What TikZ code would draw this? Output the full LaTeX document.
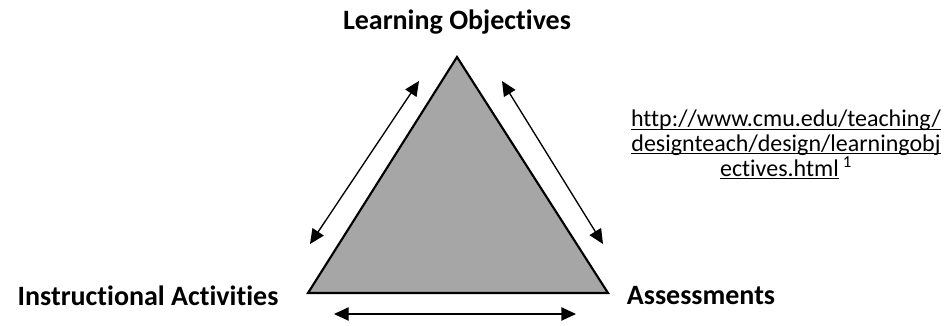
\documentclass[tikz,border=0pt]{standalone}
\usepackage{fontspec}
\setmainfont{Carlito}[Ligatures=NoCommon]
\usetikzlibrary{arrows.meta, positioning}
\definecolor{triangray}{HTML}{A6A6A6}

% underline that sits just under the baseline, through descenders
\newcommand{\linkline}[1]{\underline{\smash{#1}}}

\tikzset{
    corner/.style={font=\bfseries\fontsize{21}{25}\selectfont, inner sep=0pt},
    twoway/.style={{Triangle[length=11pt,width=10pt]}-{Triangle[length=11pt,width=10pt]}, line width=1pt},
}

\begin{document}
\begin{tikzpicture}[x=0.75pt, y=0.75pt]
    \useasboundingbox (0,0) rectangle (946,325);

    % the three corners of the triangle
    \coordinate (top) at (457, 268);
    \coordinate (left) at (308, 32);
    \coordinate (right) at (608, 32);
    \filldraw[fill=triangray, line width=1.6pt, line join=miter] (top) -- (left) -- (right) -- cycle;

    \node[corner] (obj) at (457, 303) {Learning Objectives}; % top
    \node[corner] (act) at (148, 29) {Instructional Activities}; % left
    \node[corner] (ass) at (701, 29) {Assessments}; % right

    \node[align=center, font=\fontsize{18}{18.5}\selectfont, inner sep=0pt] (url) at (786, 172)
        {\linkline{http://www.cmu.edu/teaching/}\\
         \linkline{designteach/design/learningobj}\\
         \linkline{ectives.html}\,\textsuperscript{1}};

    % arrows between the corners
    \coordinate (a1) at (310, 81);
    \coordinate (a2) at (419, 244);
    \coordinate (b1) at (502, 244);
    \coordinate (b2) at (603, 81);
    \coordinate (c1) at (334, 11);
    \coordinate (c2) at (576, 11);
    \draw[twoway] (a1) -- (a2);
    \draw[twoway] (b1) -- (b2);
    \draw[twoway] (c1) -- (c2);
\end{tikzpicture}
\end{document}
